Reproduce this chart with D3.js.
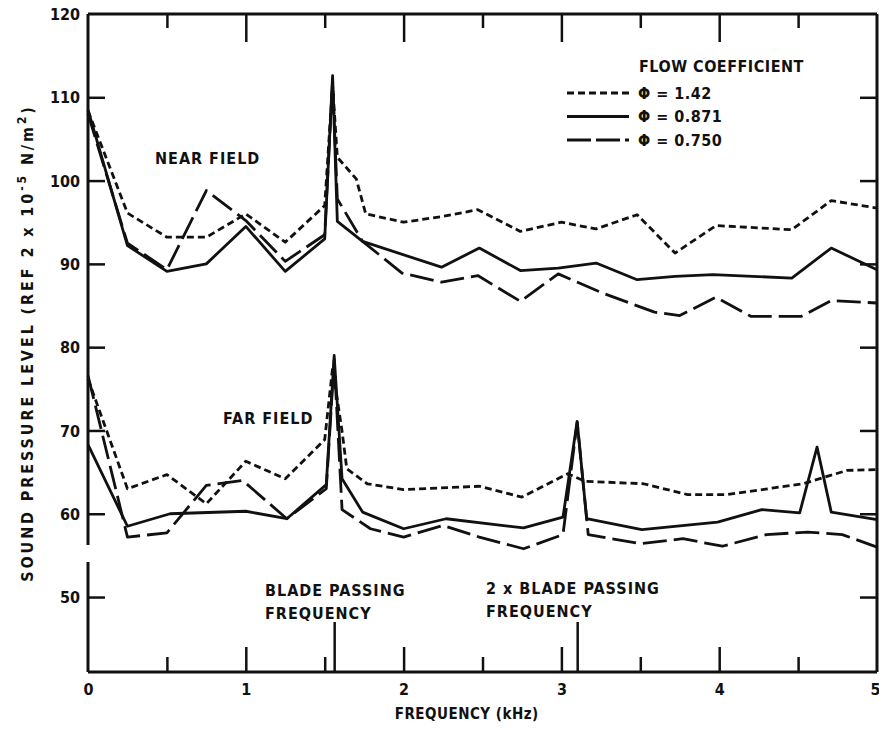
<!DOCTYPE html>
<html>
<head>
<meta charset="utf-8">
<script src="https://cdn.jsdelivr.net/npm/d3@7"></script>
<style>
  body { margin: 0; background: #fff; }
  text { font-family: "DejaVu Sans Condensed", "Liberation Sans Narrow", "DejaVu Sans", sans-serif; font-weight: bold; fill: #111; }
</style>
</head>
<body>
<div id="chart"></div>
<script>
// frequency (kHz), SPL (dB) pairs
const near142 = [[0,108.4],[0.25,96.1],[0.5,93.2],[0.75,93.2],[1.0,96.0],[1.25,92.6],[1.5,97.0],[1.55,111.5],[1.58,102.8],[1.70,100.2],[1.76,96.0],[2.0,95.0],[2.25,95.7],[2.47,96.5],[2.74,93.9],[3.0,95.0],[3.22,94.2],[3.48,95.9],[3.72,91.3],[3.98,94.6],[4.46,94.1],[4.71,97.6],[5.0,96.7]]
const near871 = [[0,108.5],[0.25,92.2],[0.5,89.1],[0.75,90.0],[1.0,94.5],[1.25,89.1],[1.5,93.0],[1.55,112.6],[1.58,95.1],[1.74,92.7],[2.24,89.6],[2.48,91.9],[2.74,89.2],[2.98,89.5],[3.22,90.1],[3.48,88.1],[3.72,88.5],[3.96,88.7],[4.46,88.3],[4.71,91.9],[5.0,89.3]]
const near750 = [[0,108.0],[0.25,92.5],[0.5,89.3],[0.75,98.8],[1.0,95.2],[1.25,90.3],[1.5,93.5],[1.55,112.0],[1.58,97.8],[1.74,92.7],[1.99,88.9],[2.24,87.8],[2.47,88.6],[2.74,85.5],[2.98,88.8],[3.26,86.5],[3.59,84.2],[3.75,83.8],[3.98,86.0],[4.2,83.7],[4.52,83.7],[4.71,85.6],[5.0,85.3]]

const far142 = [[0,76.2],[0.25,63.0],[0.5,64.7],[0.75,61.2],[1.0,66.3],[1.25,64.2],[1.5,68.9],[1.55,77.5],[1.61,69.9],[1.64,65.4],[1.77,63.6],[2.0,62.9],[2.48,63.3],[2.75,62.0],[3.04,64.8],[3.15,63.9],[3.52,63.6],[3.8,62.3],[4.05,62.3],[4.53,63.6],[4.81,65.2],[5.0,65.3]]
const far871 = [[0,68.3],[0.25,58.5],[0.52,60.0],[1.0,60.3],[1.26,59.4],[1.51,63.5],[1.56,79.0],[1.61,64.2],[1.74,60.2],[2.0,58.2],[2.27,59.4],[2.76,58.3],[3.01,59.6],[3.1,71.1],[3.16,59.4],[3.51,58.1],[3.99,59.0],[4.27,60.5],[4.51,60.1],[4.62,68.0],[4.71,60.2],[5.0,59.3]]
const far750 = [[0,76.6],[0.25,57.2],[0.5,57.7],[0.75,63.4],[0.98,64.0],[1.26,59.4],[1.51,63.0],[1.56,78.5],[1.61,60.5],[1.79,58.2],[2.0,57.2],[2.25,58.6],[2.48,57.2],[2.76,55.8],[3.01,57.5],[3.1,71.0],[3.17,57.5],[3.5,56.4],[3.77,57.0],[4.02,56.1],[4.3,57.5],[4.56,57.8],[4.78,57.5],[5.0,56.0]]

const xMajor = [0, 1, 2, 3, 4, 5]
const xMinor = [0.5, 1.5, 2.5, 3.5, 4.5]
const xMarks = [1.56, 3.1]   // blade passing, 2 x blade passing
const yTicks = [50, 60, 70, 80, 90, 100, 110, 120]
const legendLabels = ["\u03A6 = 1.42", "\u03A6 = 0.871", "\u03A6 = 0.750"]

const width = 879, height = 737
const svg = d3.select("#chart").append("svg")
    .attr("width", width)
    .attr("height", height)

const x = d3.scaleLinear().domain([0, 5]).range([88, 877])
const y = d3.scaleLinear().domain([120, 41]).range([14, 672])

const styles = [
    { dash: "7,4" },     // 1.42
    { dash: null },      // 0.871
    { dash: "24,7" }     // 0.750
]

const line = d3.line().x(d => x(d[0])).y(d => y(d[1]))

// frame
const axes = svg.append("g").attr("stroke", "#111").attr("stroke-width", 3).attr("fill", "none")
axes.append("line").attr("x1", x(0)).attr("x2", x(5)).attr("y1", y(120)).attr("y2", y(120))
axes.append("line").attr("x1", x(0)).attr("x2", x(5)).attr("y1", y(41)).attr("y2", y(41))
axes.append("line").attr("x1", x(5)).attr("x2", x(5)).attr("y1", y(120)).attr("y2", y(41))
// left axis is broken between 60 and 50
axes.append("line").attr("x1", x(0)).attr("x2", x(0)).attr("y1", y(120)).attr("y2", 545)
axes.append("line").attr("x1", x(0)).attr("x2", x(0)).attr("y1", 562).attr("y2", y(41))

function tickAxis(gen, tx, ty) {
    const g = svg.append("g")
        .attr("transform", `translate(${tx},${ty})`)
        .call(gen)
    g.select(".domain").remove()
    g.selectAll("line").attr("stroke", "#111").attr("stroke-width", 2.5)
    return g
}

// left ticks + labels
const gl = tickAxis(d3.axisLeft(y).tickValues(yTicks.filter(v => v < 120)).tickSize(-17).tickPadding(8), x(0), 0)
gl.selectAll("text").attr("font-size", 16).attr("dy", "0.35em")
svg.append("text").attr("x", 80).attr("y", y(120)).attr("dy", "0.35em")
    .attr("text-anchor", "end").attr("font-size", 16).text("120")

// right ticks
tickAxis(d3.axisLeft(y).tickValues(yTicks.filter(v => v < 120)).tickSize(17).tickFormat(""), x(5), 0)

// top ticks
tickAxis(d3.axisTop(x).tickValues(xMajor.slice(1, 5)).tickSize(-28).tickFormat(""), 0, y(120))
tickAxis(d3.axisTop(x).tickValues(xMinor).tickSize(-14).tickFormat(""), 0, y(120))

// bottom ticks
const gb = tickAxis(d3.axisBottom(x).tickValues(xMajor).tickSize(-25).tickPadding(12).tickFormat(d3.format("d")), 0, y(41))
gb.selectAll("text").attr("font-size", 16).attr("fill", "#111")
gb.selectAll(".tick").filter(d => d === 5).select("text").attr("text-anchor", "end").attr("dx", 3)
gb.selectAll(".tick line").filter(d => d === 0 || d === 5).remove()
tickAxis(d3.axisBottom(x).tickValues(xMinor).tickSize(-15).tickFormat(""), 0, y(41))
tickAxis(d3.axisBottom(x).tickValues(xMarks).tickSize(-50).tickFormat(""), 0, y(41))

// series
const series = [
    [near142, near871, near750],
    [far142, far871, far750]
]
series.forEach(group => {
    group.forEach((data, i) => {
        svg.append("path")
            .datum(data)
            .attr("d", line)
            .attr("fill", "none")
            .attr("stroke", "#111")
            .attr("stroke-width", 2.8)
            .attr("stroke-linejoin", "round")
            .attr("stroke-dasharray", styles[i].dash)
    })
})

// legend
svg.append("text").attr("x", 639).attr("y", 72).attr("font-size", 16)
    .attr("letter-spacing", 0.5).text("FLOW COEFFICIENT")
legendLabels.forEach((label, i) => {
    const ly = 93 + i * 23.5
    svg.append("line")
        .attr("x1", 567).attr("x2", 629).attr("y1", ly).attr("y2", ly)
        .attr("stroke", "#111").attr("stroke-width", 2.8)
        .attr("stroke-dasharray", styles[i].dash === "24,7" ? "24,5" : styles[i].dash)
    svg.append("text").attr("x", 638).attr("y", ly).attr("dy", "0.35em")
        .attr("font-size", 16).attr("letter-spacing", 0.5).text(label)
})

// annotations
const notes = [
    ["NEAR FIELD", 155, 158],
    ["FAR FIELD", 223, 418],
    ["BLADE PASSING", 265, 590],
    ["FREQUENCY", 265, 613],
    ["2 x BLADE PASSING", 486, 588],
    ["FREQUENCY", 486, 611]
]
notes.forEach(n => {
    svg.append("text").attr("x", n[1]).attr("y", n[2]).attr("dy", "0.35em")
        .attr("font-size", 16).attr("letter-spacing", 1).text(n[0])
})

// axis titles
svg.append("text")
    .attr("x", x(2.4)).attr("y", 719)
    .attr("text-anchor", "middle").attr("font-size", 15)
    .attr("letter-spacing", 0.5)
    .text("FREQUENCY (kHz)")

const yt = svg.append("text")
    .attr("transform", "translate(33,343) rotate(-90)")
    .attr("text-anchor", "middle")
    .attr("font-size", 16)
    .attr("letter-spacing", 2.9)
yt.append("tspan").text("SOUND PRESSURE LEVEL (REF 2 x 10")
yt.append("tspan").attr("dy", -7).attr("font-size", 12).text("-5")
yt.append("tspan").attr("dy", 7).text(" N/m")
yt.append("tspan").attr("dy", -7).attr("font-size", 12).text("2")
yt.append("tspan").attr("dy", 7).text(")")
</script>
</body>
</html>
